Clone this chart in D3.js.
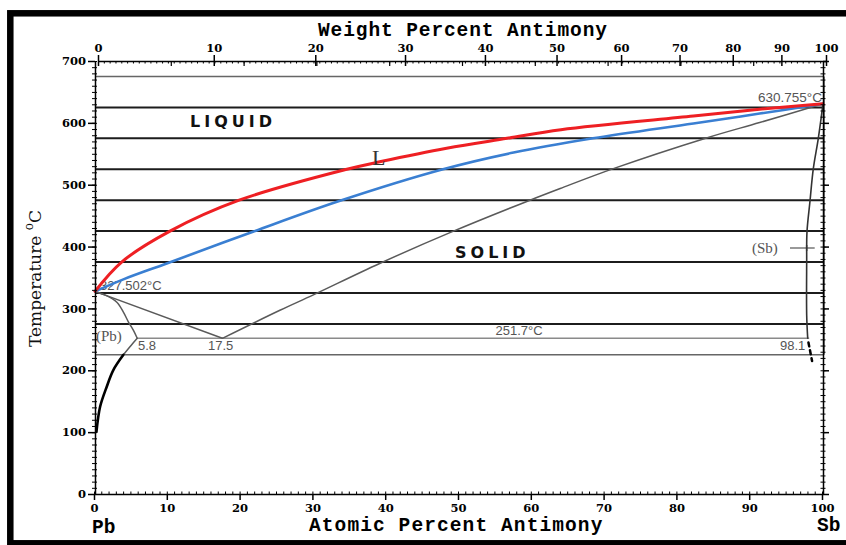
<!DOCTYPE html>
<html><head><meta charset="utf-8">
<script src="https://cdn.jsdelivr.net/npm/d3@7"></script>
<style>body{margin:0;background:#fff}svg{display:block}</style>
</head><body>
<svg id="c" width="846" height="545"></svg>
<script>
// ---- data (atomic % Sb, temperature °C) ----
const liquidusRed = [[0,327.5],[3.66,375],[10.3,425],[19.8,475],[34.6,525],[39.1,537],[48.3,559],[56.6,575],[64.0,589],[82.2,611],[91.3,622],[100,630.755]];
const solidusBlue = [[0,327.5],[3.9,347],[9.85,372.7],[21.7,424],[33.65,474],[47.8,525],[57.5,552],[68.4,575],[82.2,599],[91.3,615],[100,630.755]];
const sbLiquidus = [[17.5,251.7],[25.4,297],[30,322],[39.1,372.7],[49,423.7],[59.75,475],[63.9,493.9],[71.2,526],[84.0,575.6],[91.3,600.5],[100,630.755]];
const pbLiquidus = [[0,327.5],[17.5,251.7]];
const pbSolidus = [[0,327.5],[1.5,321],[3.0,310],[3.9,294],[4.6,278],[5.3,264],[5.8,251.7]];
const pbSolvusUpper = [[5.8,251.7],[4.8,238],[3.9,225]];
const pbSolvusLower = [[3.9,225],[2.5,200],[1.6,173],[0.7,141],[0.2,100.6]];
const sbSolvus = [[100,630.755],[99.35,574.6],[98.67,526],[98.2,472],[97.8,423.7],[97.76,375],[97.76,289],[97.9,251.7]];
const sbSolvusDashed = [[98.0,245],[98.5,215]];
const isotherms = [675,625,575,525,475,425,375,325,275,225];
const eutectic = {T:251.7, from:5.8, to:98.1};
const atomicTicks = [0,10,20,30,40,50,60,70,80,90,100];
const weightTicks = [0,10,20,30,40,50,60,70,80,90,100];
const tempTicks = [0,100,200,300,400,500,600,700];

const svg = d3.select("#c");
const x = d3.scaleLinear([0,100],[95,823]);
const xBottom = d3.scaleLinear([0,100],[94,822]);
const xTop = d3.scaleLinear([0,100],[98,826]);
const y = d3.scaleLinear([0,700],[494,61]);
const wtToAt = w => { const a = w/121.76, b = (100-w)/207.2; return 100*a/(a+b); };
const xWeight = d3.scaleLinear().domain(weightTicks).range(weightTicks.map(w => xTop(wtToAt(w))));

// frame
svg.append("rect").attr("x",10.3).attr("y",13.3).attr("width",900).attr("height",530)
  .attr("fill","none").attr("stroke","#000").attr("stroke-width",6.5);

// isotherm bands
svg.append("g").selectAll("line").data(isotherms).join("line")
  .attr("x1",x(0)).attr("x2",x(100)+1).attr("y1",d=>y(d)).attr("y2",d=>y(d))
  .attr("stroke",(d,i)=> (i===0||i===isotherms.length-1) ? "#666" : "#1c1c1c")
  .attr("stroke-width",(d,i)=> (i===0||i===isotherms.length-1) ? 1.5 : 2);
svg.append("line").attr("x1",x(100)+1).attr("x2",x(100)+1)
  .attr("y1",y(isotherms[0])).attr("y2",y(isotherms[isotherms.length-1]))
  .attr("stroke","#555").attr("stroke-width",1.5);
svg.append("line").attr("x1",x(eutectic.from)).attr("x2",x(eutectic.to))
  .attr("y1",y(eutectic.T)).attr("y2",y(eutectic.T)).attr("stroke","#8a8a8a").attr("stroke-width",1.5);

// gray annotation text (under curves)
const gtext = (t,xx,yy,size,anchor,fam) => svg.append("text").attr("x",xx).attr("y",yy)
  .attr("font-family",fam||"'Liberation Sans', Arial, sans-serif").attr("font-size",size)
  .attr("fill","#555").attr("text-anchor",anchor||"start").text(t);
gtext("327.502°C", 100, 290, 13);
gtext("630.755°C", 822, 102, 13.5, "end");
gtext("251.7°C", 519, 335, 13, "middle");
gtext("5.8", 138, 349.5, 13);
gtext("17.5", 208, 349.5, 13);
gtext("98.1", 780, 349.5, 13);
gtext("(Pb)", 96, 341, 15, "start", "'Liberation Serif', serif");
gtext("(Sb)", 752, 252.5, 15, "start", "'Liberation Serif', serif");
svg.append("line").attr("x1",790).attr("x2",x(97.76)+8).attr("y1",248).attr("y2",248).attr("stroke","#555").attr("stroke-width",1.2);
svg.append("line").attr("x1",x(97.76)).attr("x2",x(97.76)).attr("y1",245).attr("y2",251).attr("stroke","#444").attr("stroke-width",1.5);

// curves
const lc = d3.line().x(d=>x(d[0])).y(d=>y(d[1])).curve(d3.curveCatmullRom.alpha(0.5));
const path = (data,col,w,dash) => svg.append("path").attr("d",lc(data)).attr("fill","none")
  .attr("stroke",col).attr("stroke-width",w).attr("stroke-dasharray",dash||null).attr("stroke-linecap","round");
path(pbLiquidus, "#5a5a5a", 1.5);
path(sbLiquidus, "#5a5a5a", 1.5);
path(pbSolidus, "#5a5a5a", 1.5);
path(pbSolvusUpper, "#5a5a5a", 1.5);
path(pbSolvusLower, "#000", 2.6);
path(sbSolvus, "#333", 1.6);
path(sbSolvusDashed, "#000", 2.5, "4,4");
path(solidusBlue, "#3a7fd2", 2.6);
path(liquidusRed, "#ee1f23", 3);

// axes
const tickFont = g => g.selectAll("text").attr("font-family","'DejaVu Serif', serif").attr("font-weight","bold").attr("font-size",11.5).attr("fill","#000");
const noDomain = g => g.select(".domain").remove();
const strokeW = w => g => { g.selectAll("line").attr("stroke-width",w); g.select(".domain").attr("stroke-width",1.5); };

// bottom
svg.append("g").attr("transform","translate(0,494)")
  .call(d3.axisBottom(xBottom).tickValues(atomicTicks).tickSize(6).tickSizeOuter(0).tickPadding(4))
  .call(tickFont).call(strokeW(1.5));
svg.append("g").attr("transform","translate(0,494)")
  .call(d3.axisTop(xBottom).tickValues(d3.range(0,101,1)).tickSize(2.5).tickFormat(""))
  .call(noDomain).call(strokeW(1));
// top
svg.append("g").attr("transform","translate(0,61)")
  .call(d3.axisTop(xWeight).tickValues(weightTicks).tickSize(6).tickSizeOuter(0).tickPadding(3).tickFormat(d3.format("d")))
  .call(tickFont).call(strokeW(1.5));
svg.append("g").attr("transform","translate(0,61)")
  .call(d3.axisBottom(xWeight).tickValues(weightTicks).tickSize(5).tickFormat(""))
  .call(noDomain).call(strokeW(1.5));
svg.append("g").attr("transform","translate(0,61)")
  .call(d3.axisBottom(xTop).tickValues(d3.range(10,100,10)).tickSize(5).tickFormat(""))
  .call(noDomain).call(strokeW(1.2));
svg.append("g").attr("transform","translate(0,61)")
  .call(d3.axisBottom(xTop).tickValues(d3.range(0,100,0.8)).tickSize(2.5).tickFormat(""))
  .call(noDomain).call(strokeW(1));
// left
svg.append("g").attr("transform","translate(95,0)")
  .call(d3.axisLeft(y).tickValues(tempTicks).tickSize(7).tickSizeOuter(0).tickPadding(2))
  .call(tickFont).call(strokeW(1.5));
svg.append("g").attr("transform","translate(95,0)")
  .call(d3.axisLeft(y).tickValues(d3.range(0,701,10)).tickSize(3).tickFormat(""))
  .call(noDomain).call(strokeW(1));
svg.append("g").attr("transform","translate(95,0)")
  .call(d3.axisRight(y).tickValues(d3.range(0,701,10)).tickSize(2).tickFormat(""))
  .call(noDomain).call(strokeW(1));
// right
svg.append("g").attr("transform","translate(823,0)")
  .call(d3.axisRight(y).tickValues(tempTicks).tickSize(6).tickSizeOuter(0).tickFormat(""))
  .call(strokeW(1.5));
svg.append("g").attr("transform","translate(823,0)")
  .call(d3.axisLeft(y).tickValues(d3.range(0,701,10)).tickSize(2.5).tickFormat(""))
  .call(noDomain).call(strokeW(1));
svg.append("g").attr("transform","translate(823,0)")
  .call(d3.axisRight(y).tickValues(d3.range(0,701,10)).tickSize(2.5).tickFormat(""))
  .call(noDomain).call(strokeW(1));

// titles
const mono = (t,xx,yy,ls) => svg.append("text").attr("x",xx).attr("y",yy)
  .attr("font-family","'Liberation Mono', 'Courier New', monospace").attr("font-weight","bold")
  .attr("font-size",19.5).attr("letter-spacing",ls||0).attr("fill","#000").text(t);
mono("Weight Percent Antimony", 318, 36, 0.9);
mono("Atomic Percent Antimony", 309, 531, 1.1);
mono("Pb", 92, 533);
mono("Sb", 817, 531);

// region labels
const region = (t,xx,yy) => svg.append("text").attr("x",xx).attr("y",yy)
  .attr("font-family","'DejaVu Sans', sans-serif").attr("font-weight","bold").attr("font-size",16)
  .attr("letter-spacing",4).attr("fill","#111").text(t);
region("LIQUID", 190, 127);
region("SOLID", 455, 258);
svg.append("text").attr("x",372).attr("y",165).attr("font-family","'Liberation Serif', serif")
  .attr("font-size",22).attr("fill","#333").text("L");

// y title
const yt = svg.append("text").attr("transform","translate(40.5,347) rotate(-90)")
  .attr("font-family","'DejaVu Serif', serif").attr("font-size",17).attr("fill","#111");
yt.append("tspan").text("Temperature ");
yt.append("tspan").attr("font-size",12).attr("dy",-8).text("o");
yt.append("tspan").attr("dy",8).text("C");
</script>
</body></html>
